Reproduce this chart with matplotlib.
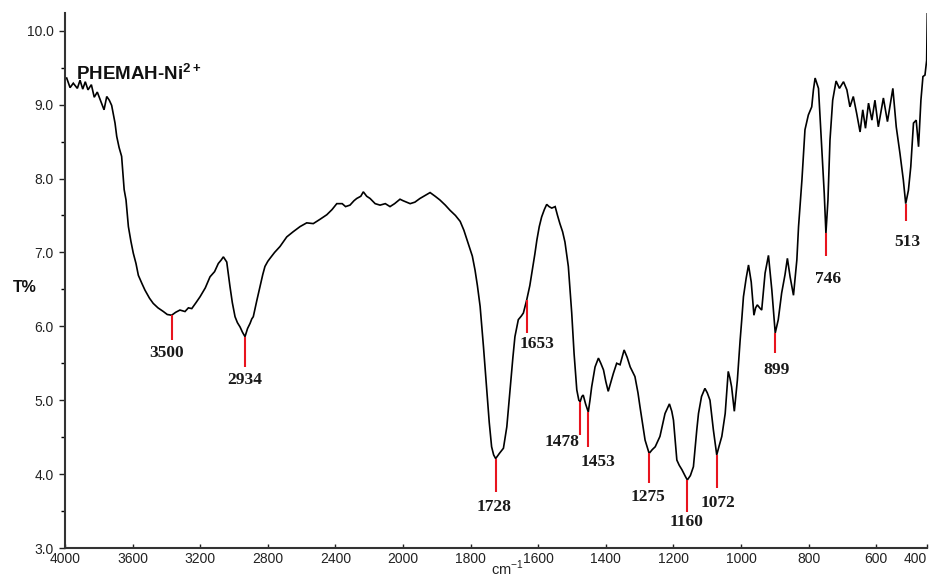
import numpy as np
import matplotlib
matplotlib.use("Agg")
import matplotlib.pyplot as plt

plt.rcParams['font.family'] = ['Liberation Sans', 'DejaVu Sans']
plt.rcParams['mathtext.fontset'] = 'custom'
plt.rcParams['mathtext.rm'] = 'Liberation Sans'
plt.rcParams['mathtext.bf'] = 'Liberation Sans:bold'

# ---------------- data ----------------
wavenumber = [4000, 3990, 3970, 3951, 3927, 3911, 3895, 3880, 3864, 3844, 3827, 3809, 3787,
              3769, 3753, 3738, 3724, 3704, 3694, 3680, 3665, 3650, 3639, 3625, 3610, 3596,
              3580, 3566, 3545, 3527, 3500, 3478, 3450, 3418, 3395, 3369, 3345, 3320, 3290,
              3270, 3250, 3225, 3201, 3170, 3142, 3115, 3093, 3075, 3063, 3043, 3024, 3010,
              2994, 2980, 2964, 2950, 2935, 2920, 2905, 2895, 2886, 2865, 2846, 2830, 2817,
              2800, 2787, 2760, 2728, 2700, 2688, 2650, 2609, 2570, 2531, 2490, 2451, 2420,
              2392, 2360, 2340, 2314, 2290, 2274, 2250, 2235, 2215, 2195, 2165, 2136, 2105,
              2077, 2050, 2018, 2000, 1979, 1965, 1950, 1935, 1920, 1905, 1891, 1875, 1861,
              1845, 1831, 1820, 1807, 1795, 1787, 1780, 1772, 1762, 1751, 1745, 1738, 1732,
              1726, 1715, 1703, 1693, 1687, 1681, 1675, 1669, 1659, 1650, 1644, 1634, 1625,
              1619, 1610, 1604, 1597, 1590, 1582, 1575, 1568, 1560, 1550, 1543, 1536, 1528,
              1521, 1511, 1506, 1501, 1494, 1486, 1480, 1476, 1471, 1467, 1460, 1452, 1447,
              1442, 1432, 1422, 1415, 1407, 1400, 1393, 1385, 1378, 1368, 1358, 1346, 1337,
              1328, 1314, 1305, 1299, 1284, 1272, 1263, 1254, 1240, 1225, 1212, 1205, 1200,
              1190, 1183, 1175, 1165, 1159, 1150, 1141, 1131, 1126, 1117, 1107, 1100, 1092,
              1082, 1072, 1065, 1057, 1047, 1038, 1033, 1028, 1020, 1011, 1003, 998, 993,
              985, 978, 970, 962, 957, 952, 945, 939, 929, 919, 909, 899, 890, 880, 870,
              863, 855, 845, 835, 830, 820, 811, 801, 791, 786, 781, 771, 761, 754, 749,
              743, 737, 729, 719, 709, 697, 687, 678, 668, 658, 648, 640, 632, 623, 613,
              604, 594, 579, 567, 551, 541, 530, 520, 513, 505, 498, 490, 482, 475, 468,
              462, 456, 451, 449]
transmittance = [9.35, 9.36, 9.23, 9.29, 9.22, 9.33, 9.21, 9.31, 9.20, 9.27, 9.10, 9.17, 9.04,
                 8.93, 9.11, 9.06, 8.99, 8.75, 8.57, 8.42, 8.30, 7.85, 7.71, 7.35, 7.15, 6.99,
                 6.85, 6.69, 6.58, 6.49, 6.38, 6.31, 6.25, 6.20, 6.16, 6.15, 6.19, 6.22, 6.20,
                 6.25, 6.24, 6.32, 6.40, 6.52, 6.67, 6.74, 6.85, 6.90, 6.94, 6.87, 6.54, 6.32,
                 6.13, 6.05, 5.99, 5.92, 5.86, 5.97, 6.04, 6.10, 6.13, 6.35, 6.54, 6.70, 6.81,
                 6.88, 6.92, 7.00, 7.08, 7.17, 7.21, 7.28, 7.35, 7.40, 7.39, 7.45, 7.51, 7.58,
                 7.66, 7.66, 7.62, 7.64, 7.70, 7.73, 7.76, 7.82, 7.76, 7.73, 7.66, 7.64, 7.66,
                 7.62, 7.66, 7.72, 7.70, 7.66, 7.68, 7.73, 7.77, 7.81, 7.76, 7.71, 7.64, 7.57,
                 7.50, 7.42, 7.30, 7.12, 6.95, 6.76, 6.55, 6.27, 5.72, 5.05, 4.70, 4.37, 4.26,
                 4.21, 4.28, 4.35, 4.64, 4.95, 5.27, 5.58, 5.86, 6.09, 6.14, 6.18, 6.36, 6.55,
                 6.72, 6.98, 7.17, 7.35, 7.48, 7.58, 7.65, 7.62, 7.60, 7.62, 7.50, 7.39, 7.28,
                 7.14, 6.81, 6.50, 6.18, 5.63, 5.14, 5.00, 4.98, 5.05, 5.07, 4.95, 4.84, 5.00,
                 5.18, 5.45, 5.57, 5.50, 5.41, 5.25, 5.12, 5.25, 5.36, 5.50, 5.48, 5.68, 5.58,
                 5.45, 5.32, 5.10, 4.91, 4.46, 4.28, 4.33, 4.37, 4.51, 4.82, 4.95, 4.85, 4.73,
                 4.19, 4.12, 4.06, 3.97, 3.92, 3.98, 4.10, 4.60, 4.82, 5.05, 5.16, 5.10, 5.00,
                 4.60, 4.26, 4.38, 4.51, 4.82, 5.39, 5.30, 5.18, 4.85, 5.27, 5.80, 6.09, 6.40,
                 6.65, 6.83, 6.60, 6.15, 6.25, 6.29, 6.25, 6.22, 6.72, 6.96, 6.49, 5.91, 6.09,
                 6.45, 6.70, 6.92, 6.67, 6.42, 6.90, 7.35, 7.98, 8.66, 8.86, 8.97, 9.20, 9.36,
                 9.22, 8.39, 7.80, 7.26, 7.71, 8.52, 9.06, 9.32, 9.22, 9.31, 9.20, 8.97, 9.11,
                 8.88, 8.63, 8.93, 8.68, 9.02, 8.79, 9.06, 8.70, 9.09, 8.77, 9.22, 8.70, 8.34,
                 7.98, 7.66, 7.84, 8.16, 8.75, 8.79, 8.43, 9.06, 9.38, 9.40, 9.60, 10.30]

peak_labels = ["3500", "2934", "1728", "1653", "1478", "1453", "1275", "1160", "1072", "899", "746", "513"]
peak_wn     = [3369, 2935, 1726, 1634, 1476, 1452, 1272, 1159, 1072, 899, 749, 513]
peak_top    = [6.15, 5.86, 4.21, 6.36, 4.98, 4.84, 4.28, 3.92, 4.26, 5.91, 7.26, 7.66]
peak_bottom = [5.81, 5.45, 3.76, 5.91, 4.53, 4.37, 3.88, 3.49, 3.81, 5.64, 6.95, 7.42]
label_wn    = [3398, 2935, 1731, 1605, 1531, 1422, 1275, 1160, 1068, 896, 744, 508]
label_T     = [5.64, 5.27, 3.55, 5.76, 4.43, 4.16, 3.69, 3.35, 3.61, 5.41, 6.64, 7.14]

xtick_pos = [4000, 3600, 3200, 2800, 2400, 2000, 1800, 1600, 1400, 1200, 1000, 800, 600, 450]
xtick_labels = ["4000", "3600", "3200", "2800", "2400", "2000", "1800", "1600", "1400",
                "1200", "1000", "800", "600", "400"]
ytick_pos = [3, 4, 5, 6, 7, 8, 9, 10]
ytick_labels = ["3.0", "4.0", "5.0", "6.0", "7.0", "8.0", "9.0", "10.0"]
yminor_pos = [3.5, 4.5, 5.5, 6.5, 7.5, 8.5, 9.5]

title = "PHEMAH-Ni$^{\\mathbf{2+}}$"


# ---------------- scale: IR split at 2000 cm-1 ----------------
def fwd(x):
    x = np.asarray(x, float)
    return np.where(x <= 2000, x, 2000 + (x - 2000) / 2.0)


def inv(u):
    u = np.asarray(u, float)
    return np.where(u <= 2000, u, 2000 + (u - 2000) * 2.0)


W, H = 931, 579
fig = plt.figure(figsize=(W / 100, H / 100), dpi=100)
ax = fig.add_axes([65 / W, (H - 548) / H, 862 / W, (548 - 13) / H])
ax.set_xscale('function', functions=(fwd, inv))
ax.set_xlim(4000, 450)
ax.set_ylim(3.0, 10.24)

ax.plot(wavenumber, transmittance, color='black', lw=1.2, solid_joinstyle='miter')

for lab, w, t0, t1, lw_, lt in zip(peak_labels, peak_wn, peak_top, peak_bottom, label_wn, label_T):
    ax.plot([w, w], [t0, t1], color='#e8141e', lw=1.5, solid_capstyle='butt')
    ax.text(lw_, lt, lab, ha='center', va='center', fontsize=12.5, fontweight='bold',
            family=['Liberation Serif', 'DejaVu Serif'], color='#1a1a1a')

for s in ['top', 'right']:
    ax.spines[s].set_visible(False)
for s in ['left', 'bottom']:
    ax.spines[s].set_color('#333333')
    ax.spines[s].set_linewidth(1.5)

ax.set_xticks(xtick_pos)
ax.set_xticklabels(xtick_labels)
ax.xaxis.set_minor_locator(matplotlib.ticker.NullLocator())
ax.set_yticks(ytick_pos)
ax.set_yticklabels(ytick_labels)
ax.set_yticks(yminor_pos, minor=True)
ax.tick_params(axis='x', direction='in', length=3, width=1, pad=3, labelsize=10,
               colors='#222222')
ax.tick_params(axis='y', which='major', direction='out', length=4, width=1, pad=4,
               labelsize=10, colors='#222222')
ax.tick_params(axis='y', which='minor', direction='out', length=3, width=1)
# keep the last (edge) tick label inside the figure
ax.get_xticklabels()[-1].set_horizontalalignment('right')

ax.text((76 - 65) / 862, (548 - 80) / (548 - 13), title, transform=ax.transAxes,
        ha='left', va='baseline', fontsize=13.5, fontweight='bold', color='#111111')

fig.text(24.5 / W, 1 - 288 / H, "T%", ha='center', va='center', fontsize=11.5,
         fontweight='bold', color='#111111')
fig.text(507 / W, 1.5 / H, "cm$^{\\mathregular{-1}}$", ha='center', va='bottom',
         fontsize=10.5, color='#222222')

fig.savefig("out.png", dpi=100)
